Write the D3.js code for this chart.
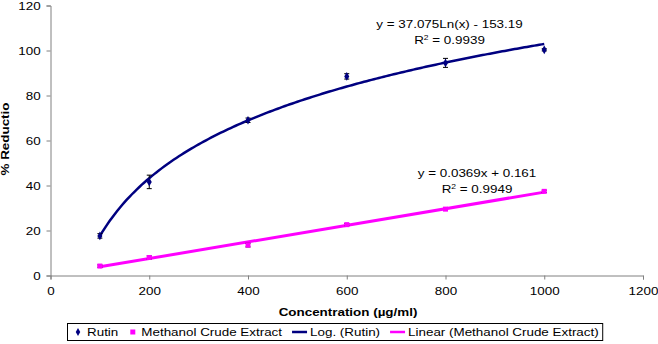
<!DOCTYPE html>
<html>
<head>
<meta charset="utf-8">
<script src="https://cdn.jsdelivr.net/npm/d3@7"></script>
<style>
  body { margin: 0; background: #fff; }
  text { font-family: "Liberation Sans", Arial, sans-serif; }
</style>
</head>
<body>
<svg width="658" height="344"></svg>
<script>
// concentrations (ug/ml)
var conc = [100, 200, 400, 600, 800, 1000]
var rutin = [17.6, 41.6, 69.0, 88.5, 94.5, 100.3]
var rutinErr = [1.0, 3.0, 1.0, 1.2, 2.0, 0.5]
var methanol = [4.2, 8.0, 13.5, 22.6, 29.5, 37.4]
var methanolErr = [0.5, 0.7, 0.8, 0.5, 0.5, 0.5]

// trendline coefficients as printed on the chart
var logFit = [37.075, -153.19]
var linFit = [0.0369, 0.161]

var xTicks = [0, 200, 400, 600, 800, 1000, 1200]
var yTicks = [0, 20, 40, 60, 80, 100, 120]

// the original text is drawn a bit wide
var sx = 1.22

var svg = d3.select('svg')
var x = d3.scaleLinear().domain([0, 1200]).range([50.5, 643])
var y = d3.scaleLinear().domain([0, 120]).range([275.5, 5.5])

var axisColor = '#808080'

svg.append('g')
  .attr('transform', 'translate(0,' + y(0) + ')')
  .call(d3.axisBottom(x).tickValues(xTicks).tickFormat(d3.format('d')).tickSize(4).tickPadding(8))
svg.append('g')
  .attr('transform', 'translate(' + x(0) + ',0)')
  .call(d3.axisLeft(y).tickValues(yTicks).tickFormat(d3.format('d')).tickSize(4).tickPadding(4))

svg.selectAll('.domain, .tick line').attr('stroke', axisColor)
svg.selectAll('.tick text')
  .attr('fill', '#000')
  .attr('transform', 'scale(' + sx + ',1)')
  .style('font-size', '11px')
  .style('font-family', '"Liberation Sans", Arial, sans-serif')

function wideText(px, py, str, size, bold, anchor) {
  return svg.append('text')
    .attr('transform', 'translate(' + px + ',' + py + ') scale(' + sx + ',1)')
    .attr('text-anchor', anchor || 'middle')
    .style('font-size', size + 'px')
    .style('font-weight', bold ? 'bold' : 'normal')
    .text(str)
}

// axis titles
wideText(348, 316, 'Concentration (\u00b5g/ml)', 11, true)
svg.append('text')
  .attr('transform', 'translate(9,139) rotate(-90) scale(' + sx + ',1)')
  .attr('text-anchor', 'middle')
  .style('font-size', '11px').style('font-weight', 'bold')
  .text('% Reductio')

// trend lines
var xs = d3.range(100, 1001, 5)
var logLine = d3.line()
  .x(d => x(d))
  .y(d => y(logFit[0] * Math.log(d) + logFit[1]))
var linLine = d3.line()
  .x(d => x(d))
  .y(d => y(linFit[0] * d + linFit[1]))

svg.append('path')
  .attr('d', linLine([100, 1000]))
  .attr('fill', 'none').attr('stroke', '#ff00ff').attr('stroke-width', 3)
svg.append('path')
  .attr('d', logLine(xs))
  .attr('fill', 'none').attr('stroke', '#000080').attr('stroke-width', 2.5)

// error bars
function errorBars(vals, errs) {
  var g = svg.append('g').attr('stroke', '#000').attr('stroke-width', 1)
  conc.forEach(function (c, i) {
    var cx = x(c)
    var top = y(vals[i] + errs[i]), bot = y(vals[i] - errs[i])
    g.append('line').attr('x1', cx).attr('x2', cx).attr('y1', top).attr('y2', bot)
    g.append('line').attr('x1', cx - 2.5).attr('x2', cx + 2.5).attr('y1', top).attr('y2', top)
    g.append('line').attr('x1', cx - 2.5).attr('x2', cx + 2.5).attr('y1', bot).attr('y2', bot)
  })
}
errorBars(rutin, rutinErr)
errorBars(methanol, methanolErr)

// markers
svg.append('g').selectAll('path')
  .data(conc)
  .enter()
  .append('path')
    .attr('d', d3.symbol(d3.symbolDiamond, 22))
    .attr('transform', (d, i) => 'translate(' + x(d) + ',' + y(rutin[i]) + ')')
    .attr('fill', '#000080')

svg.append('g').selectAll('rect')
  .data(conc)
  .enter()
  .append('rect')
    .attr('x', d => x(d) - 2.5)
    .attr('y', (d, i) => y(methanol[i]) - 2.5)
    .attr('width', 5).attr('height', 5)
    .attr('fill', '#ff00ff')

// equations
function eq(cx, cy, line1, r2) {
  wideText(cx, cy, line1, 11, false)
  var t = wideText(cx, cy + 16, '', 11, false)
  t.append('tspan').text('R')
  t.append('tspan').attr('dy', -4).style('font-size', '7px').text('2')
  t.append('tspan').attr('dy', 4).text(' = ' + r2)
}
eq(449.5, 28, 'y = 37.075Ln(x) - 153.19', '0.9939')
eq(477, 176.5, 'y = 0.0369x + 0.161', '0.9949')

// legend
var leg = svg.append('g')
var legItems = [
  { label: 'Rutin', type: 'diamond', color: '#000080' },
  { label: 'Methanol Crude Extract', type: 'square', color: '#ff00ff' },
  { label: 'Log. (Rutin)', type: 'line', color: '#000080' },
  { label: 'Linear (Methanol Crude Extract)', type: 'line', color: '#ff00ff' }
]
var ly = 332
var cursor = 74
legItems.forEach(function (d, i) {
  if (d.type === 'diamond') {
    leg.append('path').attr('d', d3.symbol(d3.symbolDiamond, 18))
      .attr('transform', 'translate(' + (cursor + 4) + ',' + ly + ')').attr('fill', d.color)
    cursor += 13
  } else if (d.type === 'square') {
    leg.append('rect').attr('x', cursor + 2).attr('y', ly - 2.5).attr('width', 5).attr('height', 5)
      .attr('fill', d.color)
    cursor += 13
  } else {
    leg.append('line').attr('x1', cursor).attr('x2', cursor + 15).attr('y1', ly).attr('y2', ly)
      .attr('stroke', d.color).attr('stroke-width', 2.5)
    cursor += 18
  }
  var t = leg.append('text')
    .attr('transform', 'translate(' + cursor + ',' + (ly + 4) + ') scale(' + sx + ',1)')
    .style('font-size', '11px').text(d.label)
  cursor += t.node().getComputedTextLength() * sx + (i < legItems.length - 1 ? 10 : 4)
})
leg.insert('rect', ':first-child')
  .attr('x', 67.5).attr('y', 323.5).attr('width', cursor - 67.5).attr('height', 17)
  .attr('fill', 'none').attr('stroke', '#000').attr('stroke-width', 1)
</script>
</body>
</html>
